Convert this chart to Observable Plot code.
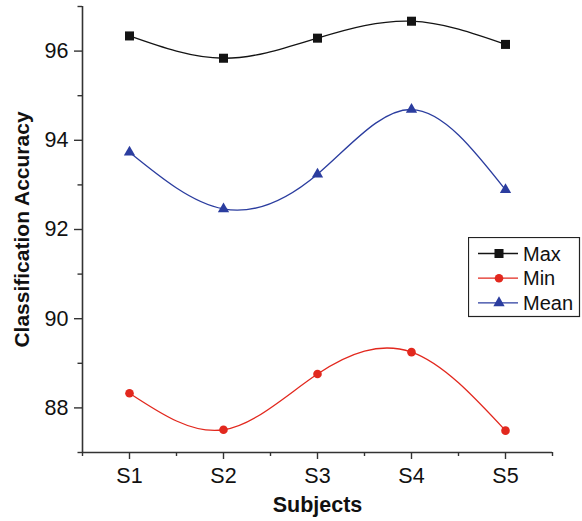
<!DOCTYPE html>
<html><head><meta charset="utf-8">
<script src="https://cdn.jsdelivr.net/npm/d3@7"></script>
<script src="https://cdn.jsdelivr.net/npm/@observablehq/plot@0.6"></script>
<style>
body{margin:0;background:#fff;}
#wrap{position:relative;width:582px;height:521px;font-family:"Liberation Sans",Arial,Helvetica,sans-serif;}
#legend{position:absolute;left:468px;top:237px;}
#wrap svg [aria-label$="tick label"]{font-size:21.5px;}
</style></head><body><div id="wrap"></div>
<script>
const subjects = ["S1","S2","S3","S4","S5"];
const maxAcc  = [96.34, 95.84, 96.29, 96.67, 96.15];
const minAcc  = [88.33, 87.51, 88.76, 89.25, 87.49];
const meanAcc = [93.73, 92.46, 93.24, 94.69, 92.89];
const seriesNames   = ["Max", "Min", "Mean"];
const seriesValues  = [maxAcc, minAcc, meanAcc];
const seriesColors  = ["#141414", "#e2281e", "#2b3d9f"];
const seriesSymbols = ["square", "circle", "triangle"];
const seriesR       = [5.1, 4.3, 4.2];
const yMajor = [88, 90, 92, 94, 96];
const yMinor = [87, 89, 91, 93, 95, 97];
const xMajor = [1, 2, 3, 4, 5];
const xMinor = [0.5, 1.5, 2.5, 3.5, 4.5, 5.5];

const axisColor = "#333";
const font = "'Liberation Sans', Arial, Helvetica, sans-serif";
const marks = [];
seriesNames.forEach((name, s) => {
  const rows = subjects.map((sub, i) => ({x: i + 1, y: seriesValues[s][i], series: name}));
  marks.push(Plot.line(rows, {x: "x", y: "y", curve: "natural", stroke: seriesColors[s], strokeWidth: 1.3}));
  marks.push(Plot.dot(rows, {x: "x", y: "y", symbol: () => seriesSymbols[s], fill: seriesColors[s], r: seriesR[s]}));
});

const chart = Plot.plot({
  width: 582, height: 521,
  marginLeft: 82, marginTop: 6, marginBottom: 69, marginRight: 30,
  x: {domain: [0.5, 5.5]},
  y: {domain: [87, 97]},
  symbol: {type: "identity"},
  style: {fontSize: "21px", fontFamily: font, color: "#111", background: "#fff"},
  marks: [
    Plot.axisX({ticks: xMajor, tickFormat: d => subjects[d - 1], tickSize: 7, tickPadding: 8, label: null, stroke: axisColor, strokeWidth: 1.4, fontSize: 21}),
    Plot.axisX({ticks: xMinor, tickFormat: () => "", tickSize: 4, label: null, stroke: axisColor, strokeWidth: 1.4}),
    Plot.axisY({ticks: yMajor, tickSize: 8, tickPadding: 6, label: null, stroke: axisColor, strokeWidth: 1.4, fontSize: 21}),
    Plot.axisY({ticks: yMinor, tickFormat: () => "", tickSize: 4.5, label: null, stroke: axisColor, strokeWidth: 1.4}),
    Plot.ruleX([0.5], {stroke: axisColor, strokeWidth: 1.6}),
    Plot.ruleY([87], {stroke: axisColor, strokeWidth: 1.6}),
    ...marks,
    Plot.text(["Classification Accuracy"], {frameAnchor: "left", dx: -60, rotate: -90, textAnchor: "middle", fontWeight: "bold", fontSize: 21, lineAnchor: "middle", text: d => d}),
    Plot.text(["Subjects"], {frameAnchor: "bottom", dy: 53, textAnchor: "middle", fontWeight: "bold", fontSize: 21.5, lineAnchor: "middle", text: d => d})
  ]
});
document.getElementById("wrap").appendChild(chart);

// legend
const lg = d3.select("#wrap").append("svg").attr("id", "legend").attr("width", 113).attr("height", 81);
lg.append("rect").attr("x", 0.5).attr("y", 0.5).attr("width", 111).attr("height", 79).attr("fill", "#fff").attr("stroke", "#222").attr("stroke-width", 1.2);
const symMap = {square: d3.symbolSquare, circle: d3.symbolCircle, triangle: d3.symbolTriangle};
seriesNames.forEach((name, s) => {
  const y = 16.5 + s * 24.7;
  const g = lg.append("g");
  g.append("line").attr("x1", 10).attr("x2", 50).attr("y1", y).attr("y2", y).attr("stroke", seriesColors[s]).attr("stroke-width", 1.3);
  g.append("path").attr("transform", `translate(31,${y})`).attr("d", d3.symbol(symMap[seriesSymbols[s]], Math.PI * seriesR[s] * seriesR[s])()).attr("fill", seriesColors[s]);
  g.append("text").attr("x", 55).attr("y", y + 7).attr("font-size", 20).attr("fill", "#111")
    .attr("font-family", font).text(name);
});
</script></body></html>
